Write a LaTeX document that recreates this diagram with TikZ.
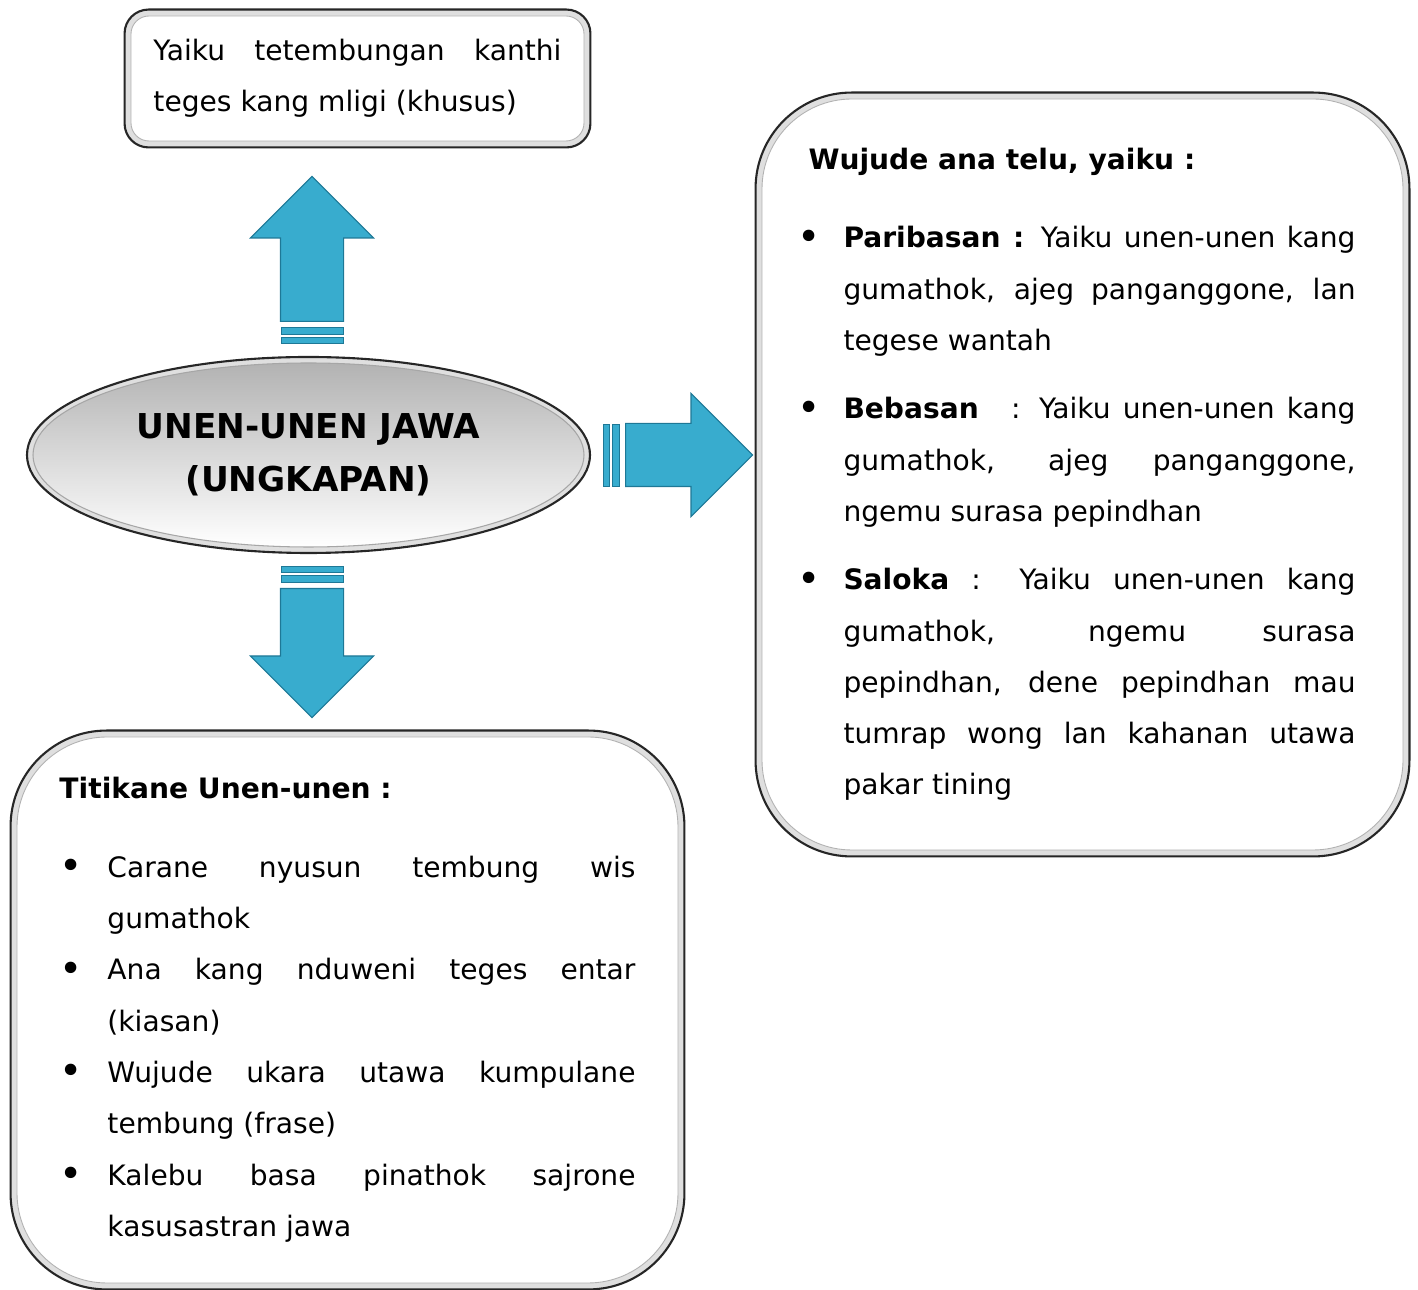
\documentclass[tikz,border=0pt]{standalone}
\usepackage{fontspec}
\setmainfont{DejaVu Sans}
\usetikzlibrary{shapes.geometric,shapes.arrows,backgrounds,calc}

\definecolor{arrowblue}{RGB}{56,172,206}
\definecolor{arrowrim}{RGB}{30,120,150}

% bullet with hanging indent
\newcommand{\bulitem}[1]{\par\hangindent=#1\hangafter=1\noindent\makebox[#1][l]{\raisebox{-0.15ex}{\scalebox{1.4}{\textbullet}}}}

\begin{document}
\begin{tikzpicture}[
        font=\fontsize{16pt}{29.2pt}\selectfont,
        panel/.style={
            draw=gray!60,
            line width=0.5pt,
            fill=white,
            inner sep=0pt,
            align=justify
        },
        rim/.style={
            draw=black!85,
            line width=1.2pt,
            fill=gray!25
        },
        hub/.style={
            ellipse,
            minimum width=11.02cm,
            minimum height=3.68cm,
            inner sep=0pt,
            top color=gray!60,
            bottom color=white,
            draw=gray!70,
            line width=0.6pt,
            align=center,
            font=\fontsize{19.5pt}{30.2pt}\selectfont\bfseries
        },
        blockarrow/.style={
            single arrow,
            single arrow head extend=0.6cm,
            single arrow head indent=0pt,
            inner xsep=0pt,
            inner ysep=0.62cm,
            outer sep=0pt,
            fill=arrowblue,
            draw=arrowrim,
            line width=0.6pt
        },
        stripe/.style={
            fill=arrowblue,
            draw=arrowrim,
            line width=0.5pt
        }
    ]
        \useasboundingbox (0,0) rectangle (28.36,25.8);

        \node (ungkapan) [hub] at (6.17,16.7) {UNEN-UNEN JAWA\\(UNGKAPAN)};

        \node (mligi) [panel, rounded corners=0.36cm, minimum width=9.06cm, minimum height=2.5cm, text width=8.16cm] at (7.15,24.23)
            {Yaiku tetembungan kanthi\linebreak teges kang mligi (khusus)\par\vspace{-0.1cm}};

        \node (wujud) [panel, rounded corners=1.8cm, minimum width=12.82cm, minimum height=15.02cm, text width=11.4cm] at (21.65,16.31)
            {\rightskip=0.24cm
             \noindent\hspace*{0.22cm}\textbf{Wujude ana telu, yaiku :}\par\vspace{0.54cm}
             \bulitem{0.92cm}\textbf{Paribasan :} Yaiku unen-unen kang\linebreak gumathok, ajeg panganggone, lan\linebreak tegese wantah\par\vspace{0.34cm}
             \bulitem{0.92cm}\textbf{Bebasan}\hspace{0.4cm} : Yaiku unen-unen kang\linebreak gumathok, ajeg panganggone,\linebreak ngemu surasa pepindhan\par\vspace{0.34cm}
             \bulitem{0.92cm}\textbf{Saloka} : Yaiku unen-unen kang\linebreak gumathok, ngemu surasa\linebreak pepindhan, dene pepindhan mau\linebreak tumrap wong lan kahanan utawa\linebreak pakar tining\par};

        \node (titik) [panel, rounded corners=1.8cm, minimum width=13.22cm, minimum height=10.92cm, text width=11.52cm] at (6.95,5.6)
            {\noindent\textbf{Titikane Unen-unen :}\par\vspace{0.54cm}
             \bulitem{0.96cm}Carane nyusun tembung wis\linebreak gumathok\par
             \bulitem{0.96cm}Ana kang nduweni teges entar\linebreak (kiasan)\par
             \bulitem{0.96cm}Wujude ukara utawa kumpulane\linebreak tembung (frase)\par
             \bulitem{0.96cm}Kalebu basa pinathok sajrone\linebreak kasusastran jawa\par\vspace{-0.2cm}};

        % block arrows out of the ellipse
        \node (up) [blockarrow, rotate=90, anchor=tail, minimum height=2.9cm] at ([shift={(0.07,0.82)}]ungkapan.north) {};
        \node (kanan) [blockarrow, anchor=tail, minimum height=2.54cm] at ([xshift=0.82cm]ungkapan.east) {};
        \node (mudhun) [blockarrow, rotate=-90, anchor=tail, minimum height=2.58cm] at ([shift={(0.07,-0.82)}]ungkapan.south) {};

        \foreach \a/\r in {up/90, kanan/0, mudhun/-90}{
            \begin{scope}[shift={(\a.tail)}, rotate=\r]
                \draw[stripe] (-0.26,-0.62) rectangle (-0.12,0.62);
                \draw[stripe] (-0.44,-0.62) rectangle (-0.32,0.62);
            \end{scope}
        }

        % bevelled rims
        \begin{scope}[on background layer]
            \draw[rim, rounded corners=0.48cm] ([shift={(-0.12,-0.12)}]mligi.south west) rectangle ([shift={(0.12,0.12)}]mligi.north east);
            \draw[rim, rounded corners=1.92cm] ([shift={(-0.12,-0.12)}]wujud.south west) rectangle ([shift={(0.12,0.12)}]wujud.north east);
            \draw[rim, rounded corners=1.92cm] ([shift={(-0.12,-0.12)}]titik.south west) rectangle ([shift={(0.12,0.12)}]titik.north east);
            \draw[rim] (ungkapan.center) ellipse [x radius=5.63cm, y radius=1.96cm];
        \end{scope}
\end{tikzpicture}
\end{document}
